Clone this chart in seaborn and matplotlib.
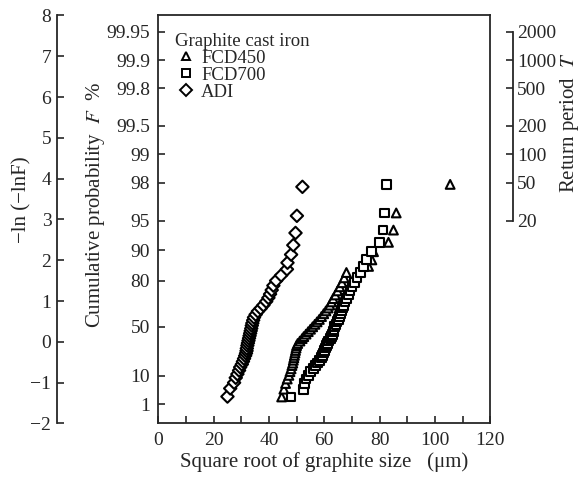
"""Gumbel plot of graphite size for three cast irons."""

import numpy as np
import pandas as pd
import matplotlib
matplotlib.use("Agg")
import matplotlib.pyplot as plt
import seaborn as sns

# reduced variate y = -ln(-ln F)
adi_x = [25.0, 26.0, 27.4, 28.0, 28.6, 29.2, 29.6, 30.2, 30.6, 31.0, 31.4,
         31.7, 31.9, 32.0, 32.2, 32.4, 32.6, 32.8, 33.0, 33.2, 33.4, 33.6,
         33.8, 34.0, 34.3, 34.6, 35.2, 36.0, 37.0, 38.0, 39.0, 39.8, 40.4,
         41.0, 41.6, 42.6, 44.4, 46.5, 46.7, 48.0, 48.8, 49.6, 50.1, 52.1]
adi_y = [-1.34, -1.14, -1.00, -0.88, -0.79, -0.70, -0.62, -0.55, -0.48, -0.41,
         -0.34, -0.28, -0.22, -0.16, -0.09, -0.03, 0.03, 0.09, 0.15, 0.21,
         0.27, 0.33, 0.40, 0.46, 0.53, 0.60, 0.67, 0.75, 0.82, 0.90, 0.99,
         1.08, 1.17, 1.27, 1.38, 1.50, 1.63, 1.78, 1.94, 2.14, 2.37, 2.67,
         3.09, 3.80]

fcd450_x = [44.6, 45.4, 46.0, 46.6, 47.2, 47.6, 48.0, 48.3, 48.6, 48.8, 49.0,
            49.2, 49.4, 49.6, 49.8, 50.0, 50.4, 51.2, 52.0, 52.6, 53.4, 54.2,
            55.0, 55.8, 56.6, 57.4, 58.2, 59.0, 59.8, 60.6, 61.4, 62.0, 62.6,
            63.2, 64.0, 64.8, 65.6, 66.4, 67.2, 68.0, 76.0, 77.2, 77.8, 83.2,
            85.0, 86.0, 105.5]
fcd700_x = [48.0, 52.5, 52.8, 53.4, 54.2, 55.0, 56.0, 56.8, 57.6, 58.4, 58.9,
            59.4, 59.8, 60.2, 60.5, 60.8, 61.2, 61.6, 62.2, 62.5, 62.9, 63.2,
            63.5, 63.8, 64.2, 64.6, 65.0, 65.4, 65.8, 66.2, 66.6, 67.0, 67.5,
            68.0, 68.7, 69.3, 70.0, 70.8, 71.8, 73.0, 74.2, 75.4, 77.2, 80.0,
            81.2, 81.7, 82.4]
fcd_y = [-1.35, -1.16, -1.02, -0.91, -0.82, -0.73, -0.66, -0.58, -0.52, -0.45,
         -0.39, -0.33, -0.27, -0.21, -0.15, -0.09, -0.04, 0.02, 0.08, 0.13,
         0.19, 0.25, 0.31, 0.37, 0.43, 0.49, 0.55, 0.62, 0.69, 0.76, 0.83,
         0.90, 0.98, 1.06, 1.15, 1.25, 1.35, 1.45, 1.57, 1.70, 1.85, 2.01,
         2.21, 2.44, 2.74, 3.16, 3.86]

prob_ticks = [1, 10, 50, 80, 90, 95, 98, 99, 99.5, 99.8, 99.9, 99.95]
prob_labels = ["1", "10", "50", "80", "90", "95", "98", "99", "99.5",
               "99.8", "99.9", "99.95"]
period_ticks = [20, 50, 100, 200, 500, 1000, 2000]
reduced_ticks = [-2, -1, 0, 1, 2, 3, 4, 5, 6, 7, 8]


def gumbel(p):
    return -np.log(-np.log(np.asarray(p, dtype=float)))


sns.set_style("ticks")
plt.rcParams["font.family"] = ["Liberation Serif", "DejaVu Serif"]
plt.rcParams["mathtext.fontset"] = "stix"

df = pd.concat([
    pd.DataFrame({"x": fcd450_x, "y": fcd_y, "grade": "FCD450"}),
    pd.DataFrame({"x": fcd700_x, "y": fcd_y, "grade": "FCD700"}),
    pd.DataFrame({"x": adi_x, "y": adi_y, "grade": "ADI"}),
], ignore_index=True)

fig = plt.figure(figsize=(5.88, 4.79), dpi=100)
ax = fig.add_axes([0.2692, 0.1159, 0.5646, 0.8518])

sns.scatterplot(data=df, x="x", y="y", hue="grade", style="grade",
                markers={"FCD450": "^", "FCD700": "s", "ADI": "D"},
                palette={"FCD450": "black", "FCD700": "black", "ADI": "black"},
                s=40, linewidth=1.5, ax=ax, zorder=3, legend=False)
for coll in ax.collections:
    coll.set_facecolor("white")
    coll.set_edgecolor("black")

ax.set_xlim(0, 120)
ax.set_ylim(-2, 8)
ax.set_xticks(range(0, 121, 20))
ax.set_xticks(range(10, 120, 20), minor=True)
ax.set_yticks(gumbel(np.array(prob_ticks) / 100))
ax.set_yticklabels(prob_labels)
ax.tick_params(axis="both", which="both", direction="in", length=5,
               width=1.2, labelsize=14, pad=6)
for sp in ax.spines.values():
    sp.set_linewidth(1.3)
ax.set_xlabel("Square root of graphite size   (\u03bcm)", fontsize=15, labelpad=2)
ax.set_ylabel("")

# legend built from plain marker handles
leg_handles = [plt.Line2D([], [], ls="none", marker=m, ms=6, mfc="white",
                          mec="black", mew=1.4) for m in ["^", "s", "D"]]
leg = ax.legend(leg_handles, ["FCD450", "FCD700", "ADI"],
                title="Graphite cast iron", loc="upper left",
                bbox_to_anchor=(0.01, 0.99), frameon=False, fontsize=13.5,
                title_fontsize=13.5, handletextpad=0.2, labelspacing=0.0,
                borderpad=0.2, alignment="left", handlelength=1.2)

# outer reduced variate axis
ax_l = ax.twinx()
ax_l.set_ylim(-2, 8)
ax_l.yaxis.tick_left()
ax_l.yaxis.set_label_position("left")
for name in ["top", "right", "bottom"]:
    ax_l.spines[name].set_visible(False)
ax_l.spines["left"].set_position(("axes", -0.3054))
ax_l.spines["left"].set_linewidth(1.3)
ax_l.set_yticks(reduced_ticks)
ax_l.set_yticklabels([str(v).replace("-", "\u2212") for v in reduced_ticks])
ax_l.tick_params(axis="y", direction="in", length=5, width=1.2, labelsize=14, pad=4)

# return period axis
ax_r = ax.twinx()
ax_r.set_ylim(-2, 8)
for name in ["top", "left", "bottom"]:
    ax_r.spines[name].set_visible(False)
ax_r.spines["right"].set_position(("axes", 1.069))
ax_r.spines["right"].set_linewidth(1.3)
period_y = gumbel(1 - 1 / np.array(period_ticks, dtype=float))
ax_r.spines["right"].set_bounds(period_y.min(), period_y.max())
ax_r.set_yticks(period_y)
ax_r.set_yticklabels([str(t) for t in period_ticks])
ax_r.tick_params(axis="y", direction="in", length=5, width=1.2, labelsize=14, pad=3)

fig.text(0.037, 0.583, "\u2212ln (\u2212lnF)", rotation=90, fontsize=15,
         ha="center", va="center")
fig.text(0.162, 0.572, "Cumulative probability  $F$  %", rotation=90,
         fontsize=15, ha="center", va="center")
fig.text(0.968, 0.745, "Return period  $T$", rotation=90, fontsize=15,
         ha="center", va="center")

fig.savefig("out.png", dpi=100)
